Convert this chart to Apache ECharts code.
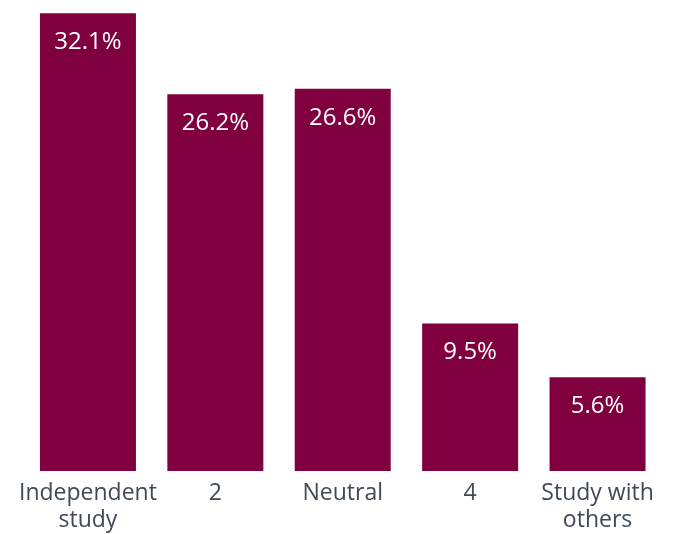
<!DOCTYPE html>
<html>
<head>
<meta charset="utf-8">
<script src="https://cdn.jsdelivr.net/npm/echarts@6/dist/echarts.min.js"></script>
<style>
  html, body { margin: 0; padding: 0; background: #ffffff; }
  #chart { width: 673px; height: 534px; }
</style>
</head>
<body>
<div id="chart"></div>
<script>
// Study preference shares (%)
const categories = ['Independent\nstudy', '2', 'Neutral', '4', 'Study with\nothers'];
const shares = [32.1, 26.2, 26.6, 9.5, 5.6];
// Bars rise from a short plinth below the zero line
const plinth = 1.2324;

const barColor = '#80003f';
const fontFamily = '"Open Sans", "Liberation Sans", sans-serif';

const chart = echarts.init(document.getElementById('chart'), null, { renderer: 'canvas' });

chart.setOption({
  animation: false,
  backgroundColor: '#ffffff',
  grid: { left: 24.25, right: 11.75, top: 4, bottom: 61, containLabel: false },
  xAxis: {
    type: 'category',
    data: categories,
    axisLine: { show: false },
    axisTick: { show: false },
    axisLabel: {
      color: '#3f4a55',
      fontFamily: fontFamily,
      fontSize: 23,
      lineHeight: 27,
      margin: 9,
      interval: 0
    }
  },
  yAxis: {
    type: 'value',
    min: 0,
    max: 34,
    show: false,
    splitLine: { show: false }
  },
  series: [
    {
      name: 'plinth',
      type: 'bar',
      stack: 'share',
      barWidth: 96,
      data: shares.map(() => plinth),
      itemStyle: { color: barColor },
      silent: true
    },
    {
      name: 'Share',
      type: 'bar',
      stack: 'share',
      barWidth: 96,
      data: shares,
      itemStyle: { color: barColor },
      label: {
        show: true,
        position: 'insideTop',
        distance: 17,
        color: '#ffffff',
        fontFamily: fontFamily,
        fontSize: 24,
        formatter: (p) => p.value.toFixed(1) + '%'
      }
    }
  ]
});
</script>
</body>
</html>
